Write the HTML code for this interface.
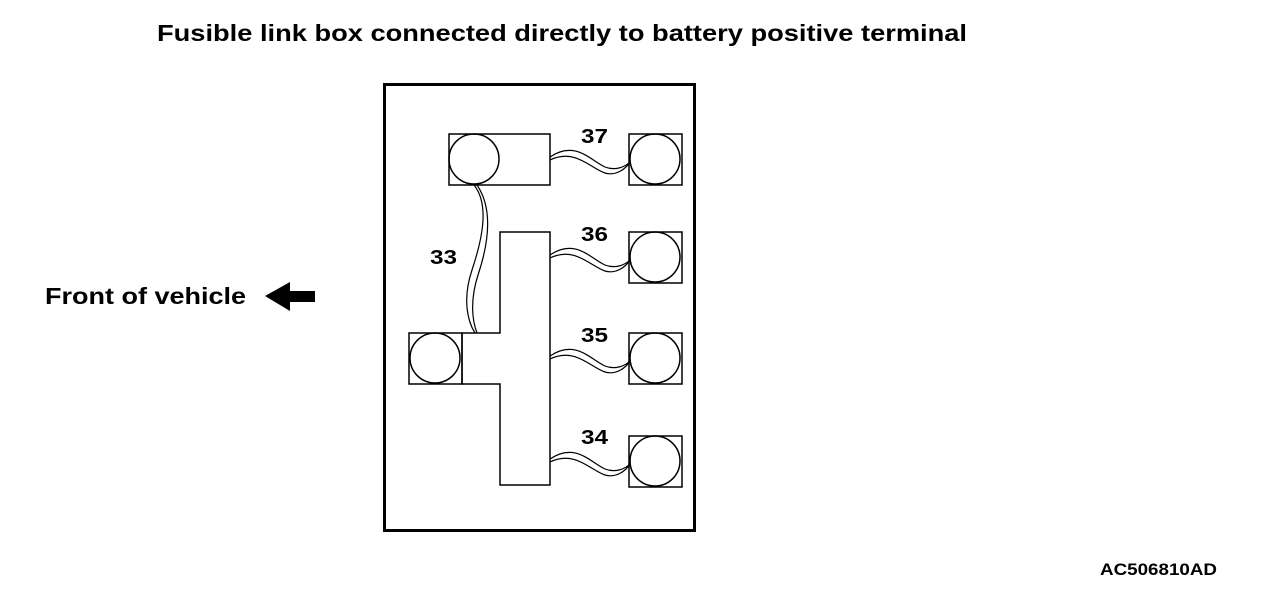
<!DOCTYPE html>
<html><head><style>
body{margin:0;background:#fff;width:1264px;height:612px;overflow:hidden}
svg{display:block}
text{font-family:"Liberation Sans",Arial,sans-serif;font-weight:bold;fill:#000}
</style></head><body>
<svg width="1264" height="612" viewBox="0 0 1264 612">
<text x="157" y="41" font-size="23" textLength="810" lengthAdjust="spacingAndGlyphs">Fusible link box connected directly to battery positive terminal</text>
<text x="45" y="304" font-size="23" textLength="201" lengthAdjust="spacingAndGlyphs">Front of vehicle</text>
<polygon points="265,296 290,282 290,291 315,291 315,302 290,302 290,311" fill="#000"/>
<text x="1100" y="575" font-size="17" textLength="117" lengthAdjust="spacingAndGlyphs">AC506810AD</text>
<g fill="none" stroke="#000">
<rect x="384.5" y="84.5" width="310" height="446" stroke-width="3"/>
<g stroke-width="1.5">
<rect x="449" y="134" width="101" height="51"/>
<circle cx="474" cy="159" r="25"/>
<path d="M500,232 H550 V485 H500 V384 H462 V333 H500 Z"/>
<rect x="409" y="333" width="53" height="51"/>
<circle cx="435" cy="358" r="25"/>
<rect x="629" y="134" width="53" height="51"/><circle cx="655" cy="159" r="25"/>
<rect x="629" y="232" width="53" height="51"/><circle cx="655" cy="257" r="25"/>
<rect x="629" y="333" width="53" height="51"/><circle cx="655" cy="358" r="25"/>
<rect x="629" y="436" width="53" height="51"/><circle cx="655" cy="461" r="25"/>
</g>
<g stroke-width="1.2">
<path d="M550,157 C575,140 590,160 605,167 C615,171 625,167 630,162"/>
<path d="M550,160 C575,148 590,168 605,173 C615,176 625,170 630,162"/>
<path d="M550,255 C575,238 590,258 605,265 C615,269 625,265 630,260"/>
<path d="M550,258 C575,246 590,266 605,271 C615,274 625,268 630,260"/>
<path d="M550,356 C575,339 590,359 605,366 C615,370 625,366 630,361"/>
<path d="M550,359 C575,347 590,367 605,372 C615,375 625,369 630,361"/>
<path d="M550,459 C575,442 590,462 605,469 C615,473 625,469 630,464"/>
<path d="M550,462 C575,450 590,470 605,475 C615,478 625,472 630,464"/>
<path d="M474,185 C490,205 482,240 472,270 C462,300 468,322 475,333"/>
<path d="M477,185 C494,210 488,245 478,275 C470,300 472,320 477,333"/>
</g>
</g>
<text x="581" y="143" font-size="20" textLength="27" lengthAdjust="spacingAndGlyphs">37</text>
<text x="581" y="241" font-size="20" textLength="27" lengthAdjust="spacingAndGlyphs">36</text>
<text x="581" y="342" font-size="20" textLength="27" lengthAdjust="spacingAndGlyphs">35</text>
<text x="581" y="444" font-size="20" textLength="27" lengthAdjust="spacingAndGlyphs">34</text>
<text x="430" y="264" font-size="20" textLength="27" lengthAdjust="spacingAndGlyphs">33</text>
</svg>
</body></html>
